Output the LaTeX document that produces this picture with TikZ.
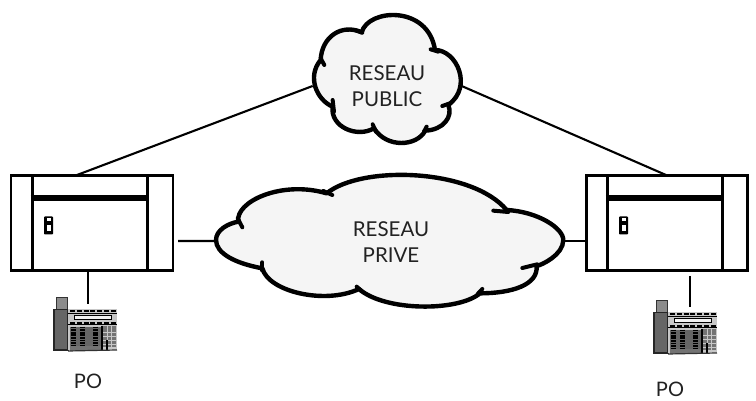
\documentclass[tikz,border=0pt]{standalone}
\usepackage{fontspec}
\setmainfont{Lato}
\definecolor{cloudfill}{HTML}{F5F5F5}
\definecolor{texte}{HTML}{222222}
\tikzset{
  pbx/.style={rectangle, draw=black, line width=2.8pt, minimum width=162pt, minimum height=95pt, inner sep=0pt},
  door/.style={rectangle, rounded corners=0.8pt, fill=black, minimum width=9pt, minimum height=18pt, inner sep=0pt},
  link/.style={draw=black, line width=2.1pt},
  cloudline/.style={draw=black, line width=4.4pt, line join=round},
  cusp/.style={draw=black, line width=4pt, line cap=round},
  legend/.style={text=texte, font=\fontsize{20.5}{26}\selectfont, align=center, inner sep=0pt},
  pics/phone/.style={code={
    \fill [black!80] (2.5,-0.5) rectangle (14.5,12);
    \fill [gray!90] (3.5,0.5) rectangle (13.5,12);
    \fill [black!85] (0,11) rectangle (15.5,53);
    \fill [black!60] (2,12) rectangle (13.5,51);
    \fill [black!22] (15,11) rectangle (64,52);
    \draw [black, line width=1pt] (15,15.5) -- (64,15.5);
    \draw [black, line width=1pt] (15,27) -- (64,27);
    \draw [black, line width=2pt, dash pattern=on 5pt off 1.8pt] (17,13) -- (64,13);
    \draw [black, line width=2pt, dash pattern=on 5pt off 1.8pt] (17,25) -- (64,25);
    \draw [black, fill=black!5, line width=1pt] (21,18) rectangle (58,21.5);
    \fill [black!60] (17,29) rectangle (49,49);
    \foreach \col in {18.5,27.5,40.5} {
      \draw [black, line width=4.5pt, dash pattern=on 1.8pt off 0.8pt] (\col+2,29) -- (\col+2,48);
    }
    \foreach \col in {52,56.5,61} {
      \draw [black!55, line width=3.4pt, dash pattern=on 3pt off 0.9pt] (\col,28) -- (\col,49);
    }
    \fill [black!55] (17,48) rectangle (48,53);
    \draw [black, line width=1.2pt] (49,28) -- (49,53);
    \draw [black, line width=1.2pt] (54,42) -- (54,53);
    \draw [black!80, line width=1.2pt] (15,53.5) -- (64,52.5);
  }},
}

\begin{document}
\begin{tikzpicture}[x=1pt, y=-1pt]
  \useasboundingbox (0,0) rectangle (756,401);

  % reseau public
  \begin{scope}[shift={(190,0)}, x=0.3333pt, y=-0.3333pt]
    \path [cloudline, fill=cloudfill] (392,180)
      .. controls (395,110) and (455,70) .. (515,97)
      .. controls (535,25) and (715,15) .. (735,150)
      .. controls (800,150) and (850,260) .. (775,315)
      .. controls (790,350) and (760,390) .. (706,392)
      .. controls (680,440) and (590,445) .. (552,385)
      .. controls (500,415) and (420,380) .. (428,320)
      .. controls (380,300) and (350,230) .. cycle;
    \draw [cusp] (392,175) -- (403,195);
    \draw [cusp] (495,90) -- (517,98);
    \draw [cusp] (722,148) -- (745,155);
    \draw [cusp] (757,318) -- (780,310);
    \draw [cusp] (702,395) -- (710,380);
    \draw [cusp] (548,373) -- (558,395);
    \draw [cusp] (428,300) -- (432,335);
    \coordinate (pubw) at (368,258);
    \coordinate (pube) at (815,258);
  \end{scope}
  \node (pub) [legend] at (387,86.5) {RESEAU\\PUBLIC};

  % reseau prive
  \begin{scope}[shift={(205,165)}, x=0.3333pt, y=-0.3333pt]
    \path [cloudline, fill=cloudfill] (100,170)
      .. controls (90,110) and (230,45) .. (365,85)
      .. controls (470,0) and (800,10) .. (905,135)
      .. controls (1000,140) and (1075,190) .. (1075,225)
      .. controls (1075,270) and (1010,300) .. (995,303)
      .. controls (1000,360) and (920,385) .. (825,385)
      .. controls (760,440) and (540,440) .. (462,372)
      .. controls (360,420) and (190,380) .. (172,310)
      .. controls (90,295) and (33,265) .. (33,225)
      .. controls (33,195) and (70,175) .. cycle;
    \draw [cusp] (98,160) -- (112,187);
    \draw [cusp] (355,78) -- (382,90);
    \draw [cusp] (865,137) -- (910,141);
    \draw [cusp] (952,309) -- (997,298);
    \draw [cusp] (818,387) -- (832,372);
    \draw [cusp] (455,365) -- (472,380);
    \draw [cusp] (172,292) -- (172,316);
    \coordinate (priw) at (33,228);
    \coordinate (prie) at (1075,228);
  \end{scope}
  \node (pri) [legend] at (391,242.5) {RESEAU\\PRIVE};

  % autocommutateur gauche
  \node (pbxl) [pbx] at (92,223.3) {};
  \draw [line width=2.8pt] ([xshift=22.5pt]pbxl.north west) -- ([xshift=22.5pt]pbxl.south west);
  \draw [line width=2.8pt] ([xshift=-27pt]pbxl.north east) -- ([xshift=-27pt]pbxl.south east);
  \draw [line width=5.5pt] ([xshift=21pt,yshift=-23.5pt]pbxl.north west) -- ([xshift=-25.5pt,yshift=-23.5pt]pbxl.north east);
  \node (doorl) [door] at (48.5,225.5) {};
  \fill [white] (47,218.5) rectangle (50.5,221);
  \fill [white] (47,225) rectangle (50.5,231.5);

  % autocommutateur droit
  \node (pbxr) [pbx, minimum width=160.5pt] at (667,223.3) {};
  \draw [line width=2.8pt] ([xshift=22pt]pbxr.north west) -- ([xshift=22pt]pbxr.south west);
  \draw [line width=2.8pt] ([xshift=-26.5pt]pbxr.north east) -- ([xshift=-26.5pt]pbxr.south east);
  \draw [line width=5.5pt] ([xshift=20.5pt,yshift=-23.5pt]pbxr.north west) -- ([xshift=-25pt,yshift=-23.5pt]pbxr.north east);
  \node (doorr) [door] at (623.5,225.5) {};
  \fill [white] (622,218.5) rectangle (625.5,221);
  \fill [white] (622,225) rectangle (625.5,231.5);

  % postes
  \pic at (53,297.5) {phone};
  \pic at (653,300.5) {phone};
  \node (pol) [legend, font=\fontsize{20}{24}\selectfont] at (88,381) {PO};
  \node (por) [legend, font=\fontsize{20}{24}\selectfont] at (670,389) {PO};

  % liaisons
  \coordinate (l1) at (77,175);
  \coordinate (r1) at (666,175);
  \coordinate (l2) at (178,241);
  \coordinate (r2) at (pbxr.west |- prie);
  \coordinate (l3) at (88,271);
  \coordinate (l4) at (88,304);
  \coordinate (r3) at (690,276);
  \coordinate (r4) at (690,307);
  \draw [link] (l1) -- (pubw);
  \draw [link] (r1) -- (pube);
  \draw [link] (l2) -- (priw);
  \draw [link] (r2) -- (prie);
  \draw [link] (l3) -- (l4);
  \draw [link] (r3) -- (r4);
\end{tikzpicture}
\end{document}
